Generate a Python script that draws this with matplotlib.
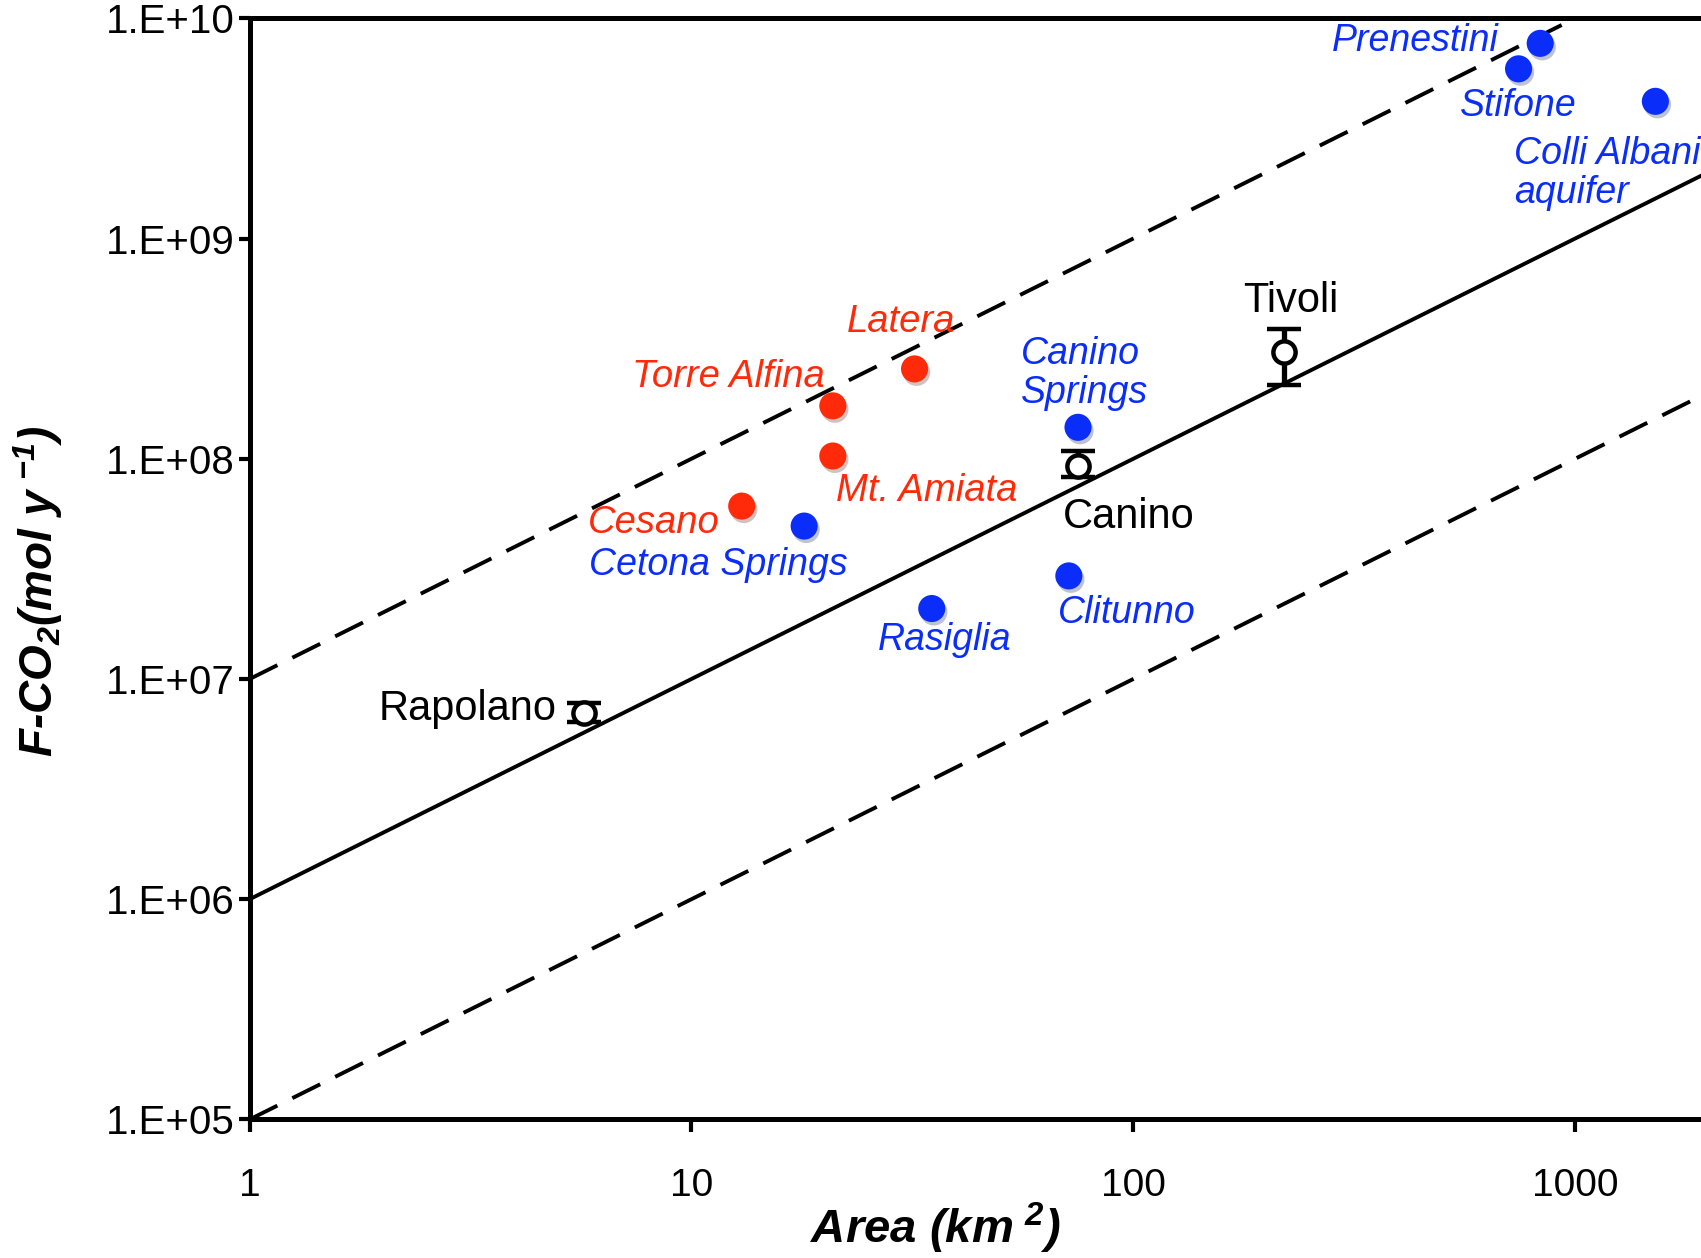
import numpy as np
import matplotlib
matplotlib.use("Agg")
import matplotlib.pyplot as plt
import matplotlib.patheffects as pe

plt.rcParams['font.family'] = ['Liberation Sans', 'DejaVu Sans']
plt.rcParams['mathtext.fontset'] = 'custom'
plt.rcParams['mathtext.rm'] = 'Liberation Sans:italic:bold'
plt.rcParams['mathtext.default'] = 'rm'

# aree (km2) e flussi (mol/y)
blu_nomi = ['Prenestini', 'Stifone', 'Colli Albani\naquifer', 'Canino\nSprings',
            'Cetona Springs', 'Rasiglia', 'Clitunno']
blu_area = [834, 745, 1520, 75, 18, 35, 71.5]
blu_flusso = [7.7e9, 5.9e9, 4.2e9, 1.39e8, 4.95e7, 2.09e7, 2.94e7]

rossi_nomi = ['Latera', 'Torre Alfina', 'Mt. Amiata', 'Cesano']
rossi_area = [32, 20.9, 20.9, 13.0]
rossi_flusso = [2.56e8, 1.74e8, 1.03e8, 6.1e7]

neri_nomi = ['Rapolano', 'Canino', 'Tivoli']
neri_area = [5.7, 75, 219]
neri_flusso = [7.0e6, 9.3e7, 3.04e8]
neri_err_basso = [6.4e6, 8.25e7, 2.16e8]
neri_err_alto = [7.8e6, 1.08e8, 3.9e8]

# rette di riferimento F = k * A
rette_k = [1e7, 1e6, 1e5]
rette_stile = ['--', '-', '--']

# posizioni delle etichette (offset in punti, allineamento)
blu_off = [(-30, 2, 'right'), (0, -27, 'center'), (-102, -52, 'left'), (-41, 39, 'left'),
           (-155, -28, 'left'), (9, -23, 'center'), (-8, -27, 'left')]
rossi_off = [(-10, 34, 'center'), (-6, 21, 'right'), (2, -25, 'left'), (-16, -12, 'right')]
neri_off = [(-19, 3, 'right'), (-11, -37, 'left'), (5, 37, 'center')]

BLU = '#0A2DFA'
ROSSO = '#FF2A0A'

fig = plt.figure(figsize=(17.01, 12.58), dpi=100)
ax = fig.add_axes([0.1467, 0.1101, 0.8533, 0.8753])
ax.set_xscale('log')
ax.set_yscale('log')
xmax = 1928
ax.set_xlim(1, xmax)
ax.set_ylim(1e5, 1e10)

xr = np.array([1, xmax])
for k, ls in zip(rette_k, rette_stile):
    line, = ax.plot(xr, k * xr, color='black', lw=2.8, ls=ls, zorder=2)
    if ls == '--':
        line.set_dashes((8, 4.3))

ombra = [pe.SimplePatchShadow(offset=(1.5, -2.5), alpha=0.25), pe.Normal()]
sb = ax.scatter(blu_area, blu_flusso, s=19.5 ** 2, color=BLU, zorder=4, linewidths=0)
sb.set_path_effects(ombra)
sr = ax.scatter(rossi_area, rossi_flusso, s=19.5 ** 2, color=ROSSO, zorder=4, linewidths=0)
sr.set_path_effects(ombra)

yerr = [np.array(neri_flusso) - np.array(neri_err_basso),
        np.array(neri_err_alto) - np.array(neri_flusso)]
ax.errorbar(neri_area, neri_flusso, yerr=yerr, fmt='o', ms=16, mfc='white', mec='black',
            mew=3.2, ecolor='black', elinewidth=3.8, capsize=12.5, capthick=3.8, zorder=5)

for nomi, xs, ys, offs, col, stile, fs in [
        (blu_nomi, blu_area, blu_flusso, blu_off, BLU, 'italic', 27),
        (rossi_nomi, rossi_area, rossi_flusso, rossi_off, ROSSO, 'italic', 27.5),
        (neri_nomi, neri_area, neri_flusso, neri_off, 'black', 'normal', 30)]:
    for n, x, y, (dx, dy, ha) in zip(nomi, xs, ys, offs):
        ax.annotate(n, (x, y), xytext=(dx, dy), textcoords='offset points', ha=ha,
                    va='center', color=col, fontsize=fs, style=stile, zorder=6,
                    linespacing=1.1)

for s in ['top', 'left', 'bottom']:
    ax.spines[s].set_linewidth(3.6)
ax.spines['right'].set_visible(False)

ax.set_yticks([1e5, 1e6, 1e7, 1e8, 1e9, 1e10])
ax.set_yticklabels(['1.E+05', '1.E+06', '1.E+07', '1.E+08', '1.E+09', '1.E+10'])
ax.set_xticks([1, 10, 100, 1000])
ax.set_xticklabels(['1', '10', '100', '1000'])
ax.minorticks_off()
ax.tick_params(axis='y', direction='out', length=8, width=3, labelsize=29, pad=3)
ax.tick_params(axis='x', direction='out', length=9, width=3, labelsize=28, pad=26)

fig.text(0.0223, 0.530, r'F-CO$_\mathrm{2}$(mol y$^{\ \mathrm{-1}}$)', fontsize=33,
         fontweight='bold', style='italic', rotation=90, ha='center', va='center')
fig.text(0.5497, 0.0231, r'Area (km$^{\ \mathrm{2}}$)', fontsize=34, fontweight='bold',
         style='italic', ha='center', va='center')

fig.savefig('out.png', dpi=100)
